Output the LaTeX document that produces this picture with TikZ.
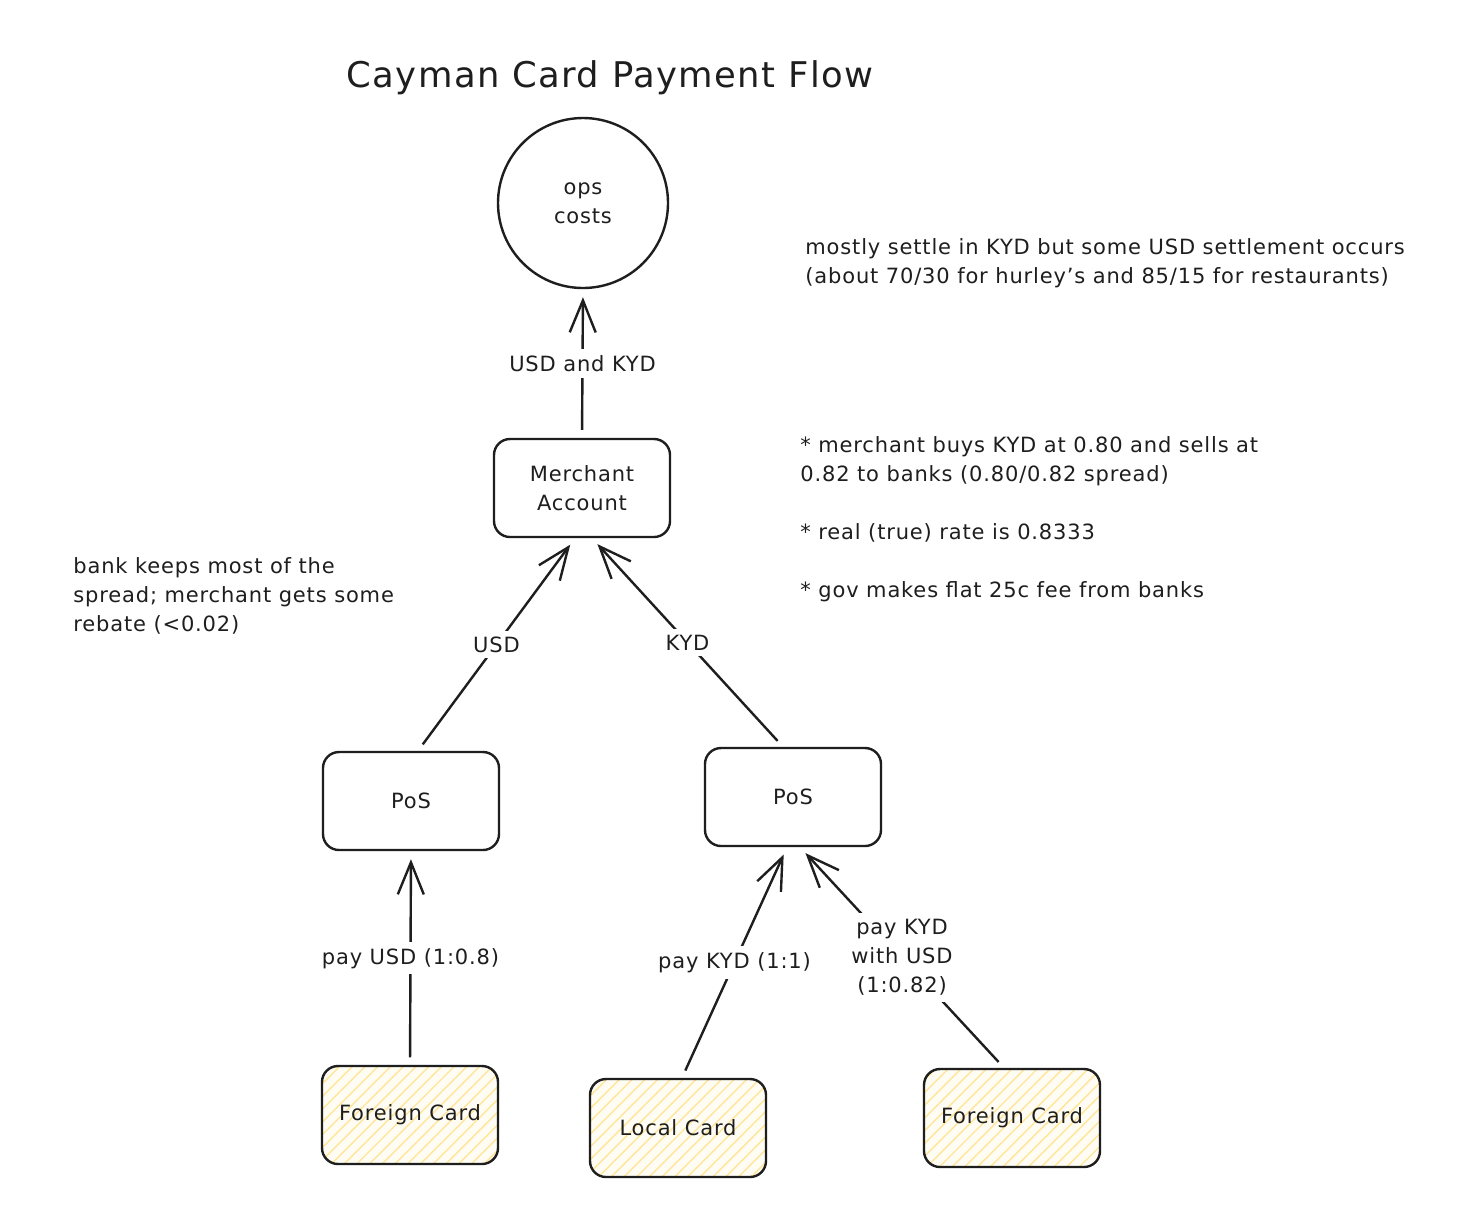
\documentclass[tikz,border=0pt]{standalone}
\usepackage{fontspec}
\setmainfont{DejaVu Sans}[LetterSpace=4]
\usetikzlibrary{positioning,calc,arrows.meta,patterns.meta}
\definecolor{ink}{HTML}{1E1E1E}
\definecolor{hatch}{HTML}{FFE59A}
\definecolor{cardbg}{HTML}{FFFDF3}

\begin{document}
\begin{tikzpicture}[
        x=0.5pt, y=-0.5pt,
        font=\fontsize{10.5}{14.5}\selectfont,
        >={Straight Barb[length=16pt,width=13pt,line width=1.2pt]},
        box/.style={draw=ink, line width=1.2pt, rounded corners=8pt, align=center, text=ink, minimum width=88pt, minimum height=49pt},
        card/.style={box, preaction={fill=cardbg}, pattern={Lines[angle=45,distance=4.5pt,line width=0.7pt]}, pattern color=hatch},
        flow/.style={->, draw=ink, line width=1.2pt, shorten <=4pt, shorten >=4pt},
        lab/.style={fill=white, inner sep=3pt, text=ink, align=center},
        note/.style={anchor=north west, inner sep=0pt, align=left, text=ink}
    ]
        \useasboundingbox[fill=white] (0,0) rectangle (1476,1228);

        % Title
        \node[text=ink, font=\fontsize{17.7}{22}\selectfont] (title) at (610,78) {Cayman Card Payment Flow};

        % Top part
        \node[circle, draw=ink, line width=1.2pt, minimum size=85pt, align=center, text=ink] (ops) at (583,203) {ops\\costs};
        \node[box] (merchant) at (582,488) {Merchant\\Account};

        % Points of sale
        \node[box] (posL) at (411,801) {PoS};
        \node[box] (posR) at (793,797) {PoS};

        % Cards
        \node[card] (foreignL) at (410,1115) {Foreign Card};
        \node[card] (local) at (678,1128) {Local Card};
        \node[card] (foreignR) at (1012,1118) {Foreign Card};

        % Flows
        \draw[flow] (merchant.north) -- node[lab] {USD and KYD} (ops.south);
        \draw[flow] ($(posL.north)+(7,0)$) -- node[lab] {USD} ($(merchant.south)+(-7,0)$);
        \draw[flow] ($(posR.north)+(-10,0)$) -- node[lab] {KYD} ($(merchant.south)+(10,0)$);
        \draw[flow] (foreignL.north) -- node[lab] {pay USD (1:0.8)} (posL.south);
        \draw[flow] ($(local.north)+(4,0)$) -- node[lab] {pay KYD (1:1)} ($(posR.south)+(-6,0)$);
        \draw[flow] ($(foreignR.north)+(-8,0)$) -- node[lab] {pay KYD\\with USD\\(1:0.82)} ($(posR.south)+(7,0)$);

        % Notes
        \node[note] (settle) at (805,238) {mostly settle in KYD but some USD settlement occurs\\(about 70/30 for hurley's and 85/15 for restaurants)};
        \node[note] (rates) at (800,436) {* merchant buys KYD at 0.80 and sells at\\0.82 to banks (0.80/0.82 spread)\\[14.5pt]* real (true) rate is 0.8333\\[14.5pt]* gov makes flat 25c fee from banks};
        \node[note] (rebate) at (73,557) {bank keeps most of the\\spread; merchant gets some\\rebate (<0.02)};
    \end{tikzpicture}
\end{document}
